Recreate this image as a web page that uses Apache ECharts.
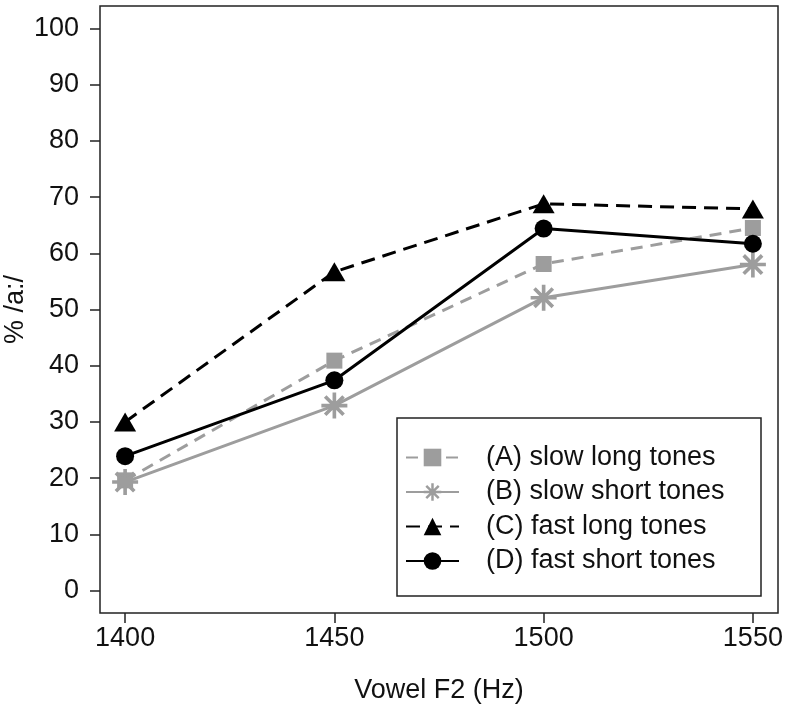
<!DOCTYPE html>
<html><head><meta charset="utf-8">
<script src="https://cdn.jsdelivr.net/npm/echarts@6/dist/echarts.min.js"></script>
<style>html,body{margin:0;padding:0;background:#fff}#c{width:788px;height:708px}</style>
</head><body><div id="c"></div>
<script>
const xValues = [1400, 1450, 1500, 1550];
const xTicks = [1400, 1450, 1500, 1550];
const yTicks = [0, 10, 20, 30, 40, 50, 60, 70, 80, 90, 100];
const slowLong = [19.6, 40.9, 58.1, 64.5];
const slowShort = [19.3, 32.9, 52.1, 58.0];
const fastLong = [30.0, 56.7, 68.8, 67.9];
const fastShort = [23.9, 37.4, 64.4, 61.7];
const seriesNames = ['(A) slow long tones', '(B) slow short tones', '(C) fast long tones', '(D) fast short tones'];
const xTitle = 'Vowel F2 (Hz)';
const yTitle = '% /a:/';

const FONT = 'Liberation Sans, Arial, sans-serif';
const GRAY = '#9d9d9d';
const BLACK = '#000';
const asterisk = 'path://M0 8.6L20 8.6L20 11.4L0 11.4Z M8.6 0L11.4 0L11.4 20L8.6 20Z M3.92 1.94L18.06 16.08L16.08 18.06L1.94 3.92Z M18.06 3.92L3.92 18.06L1.94 16.08L16.08 1.94Z';

function pts(arr) { return xValues.map((x, i) => [x, arr[i]]); }

const chart = echarts.init(document.getElementById('c'), null, {renderer: 'canvas'});
chart.setOption({
  animation: false,
  backgroundColor: '#fff',
  textStyle: {fontFamily: FONT},
  grid: {left: 100, right: 10, top: 6, bottom: 95, show: true, borderColor: '#222', borderWidth: 1.5,
         backgroundColor: 'transparent', containLabel: false, outerBoundsMode: 'none'},
  xAxis: {
    type: 'value', min: 1394, max: 1556,
    splitLine: {show: false},
    axisLine: {show: false, onZero: false},
    axisTick: {show: true, length: 10, customValues: xTicks, lineStyle: {color: '#222', width: 1.5}},
    axisLabel: {customValues: xTicks, fontSize: 27, color: '#111', margin: 12, fontFamily: FONT,
                formatter: v => String(v)},
    name: xTitle, nameLocation: 'middle', nameGap: 64, nameMoveOverlap: false,
    nameTextStyle: {fontSize: 27, color: '#111', fontFamily: FONT}
  },
  yAxis: {
    type: 'value', min: -4, max: 104,
    splitLine: {show: false},
    axisLine: {show: false, onZero: false},
    axisTick: {show: true, length: 10, customValues: yTicks, lineStyle: {color: '#222', width: 1.5}},
    axisLabel: {customValues: yTicks, fontSize: 27, color: '#111', margin: 21, fontFamily: FONT,
                formatter: v => String(v)},
    name: yTitle, nameLocation: 'middle', nameGap: 84, nameRotate: 90, nameMoveOverlap: false,
    nameTextStyle: {fontSize: 27, color: '#111', fontFamily: FONT, verticalAlign: 'middle'}
  },
  legend: {
    orient: 'vertical', left: 400, top: 439,
    itemWidth: 53, itemHeight: 22, itemGap: 7.5,
    selectedMode: false,
    textStyle: {fontSize: 27, color: '#111', fontFamily: FONT, padding: [0, 0, 0, 22], lineHeight: 22},
    data: seriesNames
  },
  graphic: [{
    type: 'rect', z: 3,
    shape: {x: 397, y: 418, width: 364, height: 178},
    style: {fill: '#fff', stroke: '#222', lineWidth: 1.5}
  }],
  series: [
    {type: 'line', name: seriesNames[0], data: pts(slowLong), symbol: 'rect', symbolSize: 16,
     lineStyle: {color: GRAY, width: 3, type: [12, 8]}, itemStyle: {color: GRAY}, emphasis: {disabled: true}, z: 2},
    {type: 'line', name: seriesNames[1], data: pts(slowShort), symbol: asterisk, symbolSize: 26,
     lineStyle: {color: GRAY, width: 3}, itemStyle: {color: GRAY}, emphasis: {disabled: true}, z: 2},
    {type: 'line', name: seriesNames[2], data: pts(fastLong), symbol: 'triangle', symbolSize: [22, 19],
     lineStyle: {color: BLACK, width: 3, type: [14, 8]}, itemStyle: {color: BLACK}, emphasis: {disabled: true}, z: 2},
    {type: 'line', name: seriesNames[3], data: pts(fastShort), symbol: 'circle', symbolSize: 18,
     lineStyle: {color: BLACK, width: 3}, itemStyle: {color: BLACK}, emphasis: {disabled: true}, z: 2}
  ]
});
</script>
</body></html>
